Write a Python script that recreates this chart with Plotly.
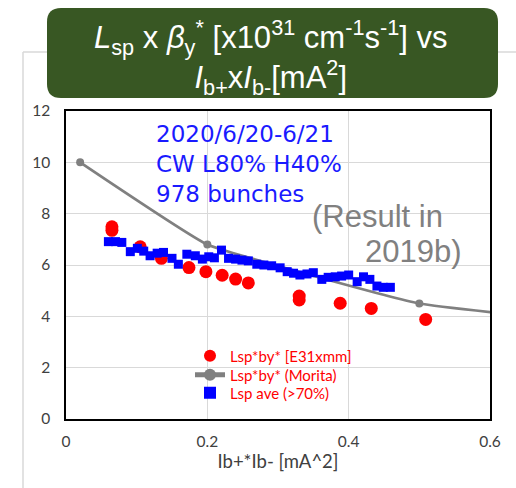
import plotly.graph_objects as go

# ---------------- data ----------------
red_x = [0.065, 0.065, 0.105, 0.135, 0.174, 0.198, 0.221, 0.240, 0.258, 0.330, 0.330, 0.388, 0.432, 0.509]
red_y = [7.49, 7.35, 6.71, 6.26, 5.90, 5.74, 5.60, 5.45, 5.30, 4.79, 4.64, 4.51, 4.31, 3.88]

morita_x = [0.02, 0.2, 0.5, 0.8]
morita_y = [10.0, 6.8, 4.5, 3.6]

blue_x = [0.060, 0.070, 0.079, 0.091, 0.101, 0.110, 0.119, 0.129, 0.138, 0.150,
          0.159, 0.171, 0.183, 0.193, 0.202, 0.210, 0.220, 0.230, 0.240, 0.249,
          0.258, 0.270, 0.280, 0.291, 0.303, 0.313, 0.322, 0.331, 0.341, 0.350,
          0.362, 0.371, 0.381, 0.390, 0.400, 0.412, 0.421, 0.430, 0.440, 0.449, 0.459]
blue_y = [6.91, 6.91, 6.88, 6.52, 6.65, 6.54, 6.36, 6.46, 6.49, 6.26,
          6.03, 6.42, 6.36, 6.23, 6.32, 6.28, 6.58, 6.26, 6.23, 6.19,
          6.16, 6.03, 6.00, 5.97, 5.89, 5.74, 5.68, 5.61, 5.65, 5.70,
          5.44, 5.52, 5.54, 5.57, 5.61, 5.35, 5.54, 5.44, 5.18, 5.13, 5.13]

x_ticks = [0, 0.2, 0.4, 0.6]
x_tick_labels = ["0", "0.2", "0.4", "0.6"]
y_ticks = [0, 2, 4, 6, 8, 10, 12]
y_tick_labels = ["0", "2", "4", "6", "8", "10", "12"]

names = ["Lsp*by* [E31xmm]", "Lsp*by* (Morita)", "Lsp ave (>70%)"]
title_text = ("<i>L</i><sub>sp</sub> x <i>β</i><sub>y</sub><sup>*</sup> [x10<sup>31</sup> "
              "cm<sup>-1</sup>s<sup>-1</sup>] vs<br><i>I</i><sub>b+</sub>x<i>I</i><sub>b-</sub>[mA<sup>2</sup>]")
note_blue = "2020/6/20-6/21<br>CW L80% H40%<br>978 bunches"
note_gray_1 = "(Result in"
note_gray_2 = "2019b)"
x_title = "Ib+*Ib- [mA^2]"

# ---------------- layout helpers (pixel -> paper) ----------------
W_FIG, H_FIG = 516, 488
L, R, T, B = 66, 490, 111, 419
PW, PH = R - L, B - T


def px(x):
    return (x - L) / PW


def py(y):
    return (B - y) / PH


def rounded_rect(x0, y0, x1, y1, r):
    pts = []
    pts.append(f"M {px(x0 + r)} {py(y0)}")
    pts.append(f"L {px(x1 - r)} {py(y0)}")
    pts.append(f"Q {px(x1)} {py(y0)} {px(x1)} {py(y0 + r)}")
    pts.append(f"L {px(x1)} {py(y1 - r)}")
    pts.append(f"Q {px(x1)} {py(y1)} {px(x1 - r)} {py(y1)}")
    pts.append(f"L {px(x0 + r)} {py(y1)}")
    pts.append(f"Q {px(x0)} {py(y1)} {px(x0)} {py(y1 - r)}")
    pts.append(f"L {px(x0)} {py(y0 + r)}")
    pts.append(f"Q {px(x0)} {py(y0)} {px(x0 + r)} {py(y0)}")
    pts.append("Z")
    return " ".join(pts)


fig = go.Figure()

fig.add_trace(go.Scatter(
    x=red_x, y=red_y, mode="markers", name=names[0], legend="legend",
    marker=dict(symbol="circle", size=13, color="#FF0000"),
))
fig.add_trace(go.Scatter(
    x=morita_x, y=morita_y, mode="lines+markers", name=names[1], legend="legend2",
    line=dict(color="#808080", width=2.8, shape="spline", smoothing=0.3),
    marker=dict(symbol="circle", size=8, color="#808080"),
))
fig.add_trace(go.Scatter(
    x=blue_x, y=blue_y, mode="markers", name=names[2], legend="legend3",
    marker=dict(symbol="square", size=9, color="#0000FF"),
))

axis_font = dict(family="Lato", size=15.5, color="#404040")
leg_font = dict(family="Lato", size=15, color="#FF0000")


def leg(ypix):
    return dict(x=px(190), y=py(ypix), xanchor="left", yanchor="middle",
                bgcolor="rgba(0,0,0,0)", font=leg_font, itemsizing="constant")


fig.update_layout(
    width=W_FIG, height=H_FIG,
    margin=dict(l=L, r=W_FIG - R, t=T, b=H_FIG - B),
    paper_bgcolor="white", plot_bgcolor="white",
    showlegend=True,
    legend=leg(356),
    legend2=leg(375),
    legend3=leg(393),
    xaxis=dict(
        range=[0, 0.6], tickvals=x_ticks, ticktext=x_tick_labels,
        showgrid=True, gridcolor="#D9D9D9", gridwidth=1.2,
        showline=True, linecolor="black", linewidth=1.5, mirror=True,
        zeroline=False, ticks="", tickfont=axis_font, ticklabelstandoff=8,
        title=dict(text=x_title, font=dict(family="Lato", size=18.5, color="#404040"), standoff=6),
    ),
    yaxis=dict(
        range=[0, 12], tickvals=y_ticks, ticktext=y_tick_labels,
        showgrid=True, gridcolor="#D9D9D9", gridwidth=1.2,
        showline=True, linecolor="black", linewidth=1.5, mirror=True,
        zeroline=False, ticks="", tickfont=axis_font, ticklabelstandoff=11,
    ),
    shapes=[
        dict(type="line", xref="paper", yref="paper", x0=px(23), x1=px(23), y0=py(52), y1=py(490),
             line=dict(color="#D9D9D9", width=1.5), layer="below"),
        dict(type="line", xref="paper", yref="paper", x0=px(23), x1=px(520), y0=py(52), y1=py(52),
             line=dict(color="#D9D9D9", width=1.5), layer="below"),
        dict(type="path", xref="paper", yref="paper", path=rounded_rect(47, 8, 498, 98, 14),
             fillcolor="#385723", line=dict(width=0), layer="above"),
    ],
    annotations=[
        dict(text=title_text, xref="paper", yref="paper", x=px(271), y=py(57),
             xanchor="center", yanchor="middle", showarrow=False, align="center",
             font=dict(family="Liberation Sans", size=31, color="white")),
        dict(text=note_blue, xref="paper", yref="paper", x=px(154), y=py(164),
             xanchor="left", yanchor="middle", showarrow=False, align="left",
             font=dict(family="DejaVu Sans", size=23, color="#1A1AFF")),
        dict(text=note_gray_1, xref="paper", yref="paper", x=px(310), y=py(216),
             xanchor="left", yanchor="middle", showarrow=False, align="left",
             font=dict(family="Liberation Sans", size=31, color="#808080")),
        dict(text=note_gray_2, xref="paper", yref="paper", x=px(464), y=py(251),
             xanchor="right", yanchor="middle", showarrow=False, align="right",
             font=dict(family="Liberation Sans", size=31, color="#808080")),
    ],
)

fig.write_html("out.html")
